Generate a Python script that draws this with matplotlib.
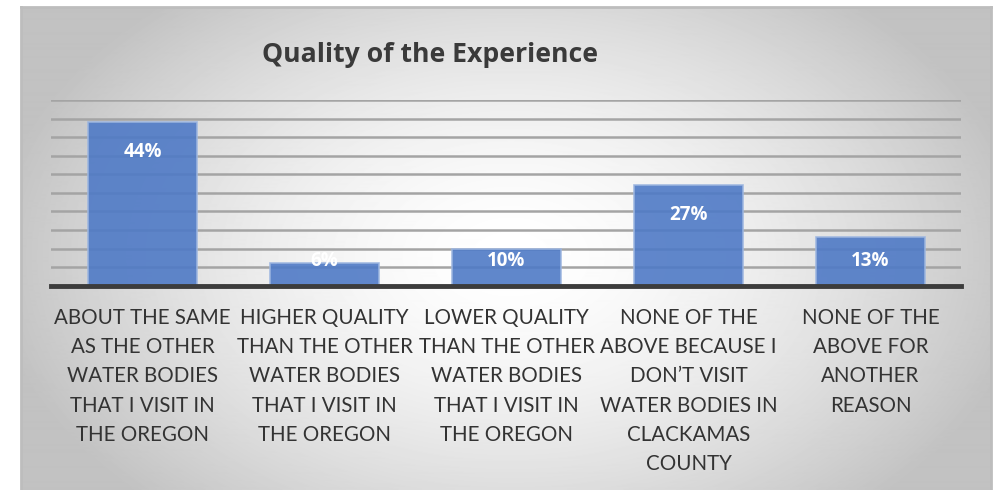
import numpy as np
import matplotlib.pyplot as plt

categories = [
    "ABOUT THE SAME\nAS THE OTHER\nWATER BODIES\nTHAT I VISIT IN\nTHE OREGON",
    "HIGHER QUALITY\nTHAN THE OTHER\nWATER BODIES\nTHAT I VISIT IN\nTHE OREGON",
    "LOWER QUALITY\nTHAN THE OTHER\nWATER BODIES\nTHAT I VISIT IN\nTHE OREGON",
    "NONE OF THE\nABOVE BECAUSE I\nDON\u2019T VISIT\nWATER BODIES IN\nCLACKAMAS\nCOUNTY",
    "NONE OF THE\nABOVE FOR\nANOTHER\nREASON",
]
values = [44, 6, 10, 27, 13]
labels = ["44%", "6%", "10%", "27%", "13%"]

W, H = 995, 490
fig = plt.figure(figsize=(W / 100, H / 100), dpi=100)
fig.patch.set_facecolor("white")

# chart area with radial grey gradient
x0, y0, x1 = 21, 7, 991
bg = fig.add_axes([x0 / W, 0, (x1 - x0) / W, (H - y0) / H])
yy, xx = np.mgrid[0:483, 0:970]
r = np.sqrt(((xx - 490) / 520.0) ** 2 + ((yy - 250) / 340.0) ** 2)
shade = 1 - 0.24 * np.clip(r, 0, 1) ** 1.6
bg.imshow(shade, cmap="gray", vmin=0, vmax=1, aspect="auto", interpolation="bilinear")
bg.set_axis_off()
for xs, ys in [([0, 0], [0, 1]), ([0, 1], [1, 1]), ([1, 1], [1, 0])]:
    bg.plot(xs, ys, transform=bg.transAxes, color="#bdbdbd", lw=2, clip_on=False)

ax = fig.add_axes([51.5 / W, 1 - 285.7 / H, 910 / W, 185.7 / H])
ax.patch.set_alpha(0)
x = np.arange(len(values))
ax.set_xlim(-0.5, len(values) - 0.5)
ax.set_ylim(0, 50)
for g in range(5, 55, 5):
    ax.axhline(g, color="#a4a4a4", lw=1.8, zorder=1)
ax.bar(x, values, width=0.6, color="#4f7ac6", alpha=0.9,
       edgecolor="#9db6e0", linewidth=1.2, zorder=2)
ax.axhline(0, color="#3c3c3c", lw=3.5, zorder=3, clip_on=False)

for xi, v, lab in zip(x, values, labels):
    ax.text(xi, max(v - 8, 6.6), lab, ha="center", va="center", color="white",
            fontsize=13.5, fontweight="bold", family="Open Sans", zorder=4)

for s in ax.spines.values():
    s.set_visible(False)
ax.set_yticks([])
ax.set_xticks(x)
ax.set_xticklabels(categories, fontsize=14.8, family="Lato", color="#333333",
                   linespacing=1.58)
ax.tick_params(axis="x", length=0, pad=16)

fig.text(429.5 / W, 1 - 55 / H, "Quality of the Experience", ha="center", va="center",
         fontsize=19.2, fontweight="bold", family="Open Sans", color="#3a3a3a")

fig.savefig("out.png", dpi=100)
